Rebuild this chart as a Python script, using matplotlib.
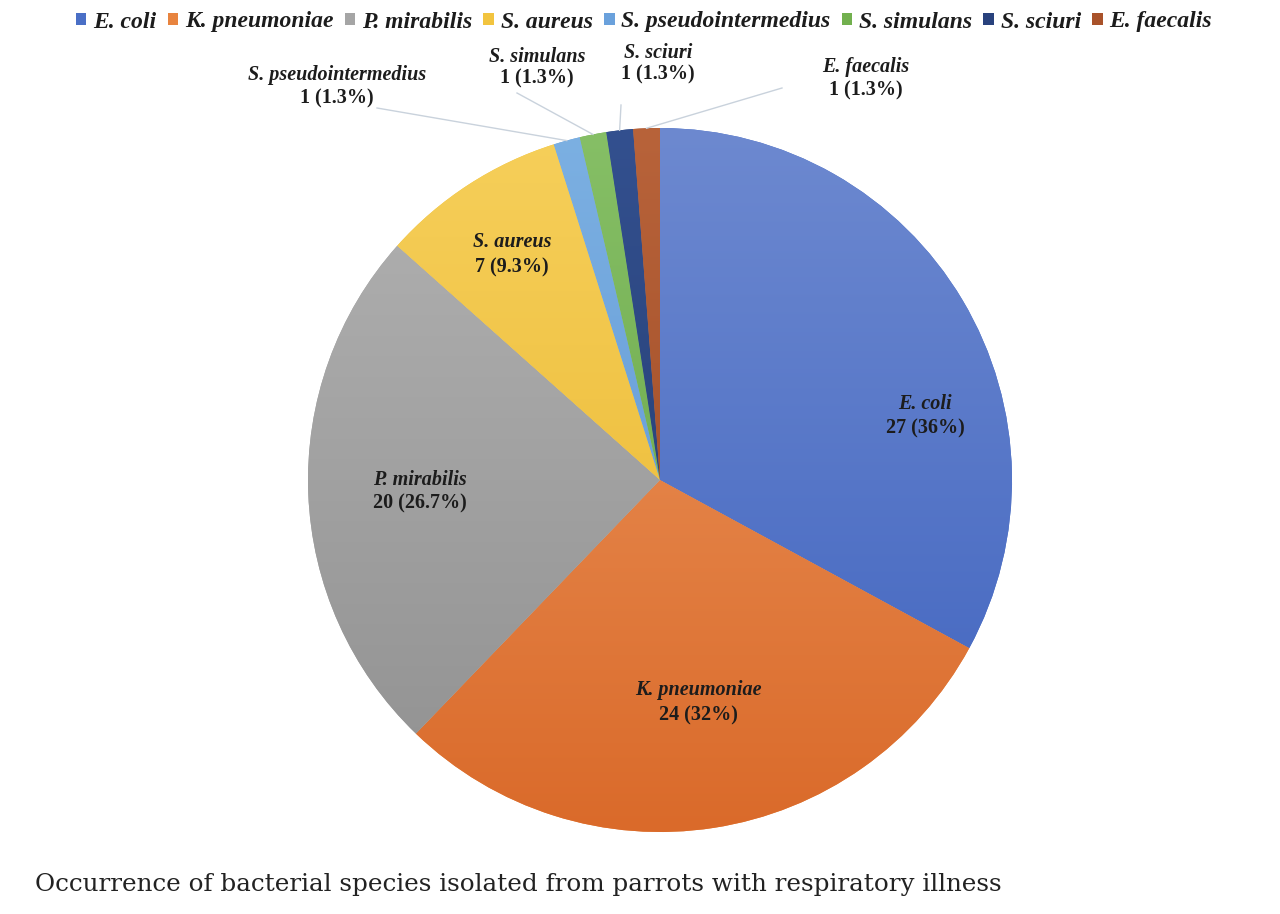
import numpy as np
import matplotlib
matplotlib.use("Agg")
import matplotlib.pyplot as plt
from matplotlib.patches import Patch
import matplotlib.colors as mcolors

# ---------------- data ----------------
species = ["E. coli", "K. pneumoniae", "P. mirabilis", "S. aureus",
           "S. pseudointermedius", "S. simulans", "S. sciuri", "E. faecalis"]
counts = [27, 24, 20, 7, 1, 1, 1, 1]
percent_labels = ["36%", "32%", "26.7%", "9.3%", "1.3%", "1.3%", "1.3%", "1.3%"]
caption = "Occurrence of bacterial species isolated from parrots with respiratory illness"

# ---------------- styles ----------------
legend_colors = ["#4a6fc6", "#e8843f", "#a5a5a5", "#f2c43f",
                 "#6aa1dc", "#72b04e", "#29427d", "#a9522a"]
top_colors = ["#6d89d0", "#ed9a62", "#b2b2b2", "#f6cf5a",
              "#7cb0e2", "#86bf66", "#33508f", "#b8633a"]
bot_colors = ["#3f63bf", "#da6a2a", "#909090", "#e9b52c",
              "#5a92d2", "#62a040", "#213869", "#974520"]

W, H = 1280, 914
fig = plt.figure(figsize=(12.8, 9.14), dpi=100)
ax = fig.add_axes([0, 0, 1, 1])

cx, cy, R = 660, H - 480, 352
wedges, _ = ax.pie(counts, startangle=90, counterclock=False,
                   center=(cx, cy), radius=R, colors=legend_colors,
                   wedgeprops=dict(linewidth=0), frame=True)
ax.set_xlim(0, W)
ax.set_ylim(0, H)
ax.set_aspect("equal")
ax.axis("off")

# vertical gradient fill clipped to each wedge
N = 256
t = np.linspace(0, 1, N)[:, None, None]
for w, ct, cb in zip(wedges, top_colors, bot_colors):
    a = np.array(mcolors.to_rgb(ct))[None, None, :]
    b = np.array(mcolors.to_rgb(cb))[None, None, :]
    grad = a * (1 - t) + b * t
    im = ax.imshow(grad, extent=(cx - R, cx + R, cy - R, cy + R),
                   origin="upper", aspect="auto", zorder=2, interpolation="bilinear")
    im.set_clip_path(w)
ax.set_xlim(0, W)
ax.set_ylim(0, H)

name_font = dict(family="Liberation Serif", weight="bold", style="italic")
num_font = dict(family="Liberation Serif", weight="bold")
txt_color = "#1c1c1c"
fs = 14.5

# label positions (pixel, from top): x, y of name line, y of count line
label_pos = {
    "E. coli": (925, 404, 428),
    "K. pneumoniae": (698, 690, 715),
    "P. mirabilis": (420, 480, 503),
    "S. aureus": (512, 242, 267),
    "S. pseudointermedius": (337, 75, 98),
    "S. simulans": (537, 57, 78),
    "S. sciuri": (658, 53, 74),
    "E. faecalis": (866, 67, 90),
}
leader_start = {
    "S. pseudointermedius": (377, 108),
    "S. simulans": (517, 93),
    "S. sciuri": (621, 105),
    "E. faecalis": (782, 88),
}

total = sum(counts)
cum = np.cumsum([0] + counts[:-1])
for i, (sp, c, p) in enumerate(zip(species, counts, percent_labels)):
    x, yn, yc = label_pos[sp]
    ax.text(x, H - yn, sp, ha="center", va="center", fontsize=fs,
            color=txt_color, zorder=5, **name_font)
    ax.text(x, H - yc, f"{c} ({p})", ha="center", va="center", fontsize=fs,
            color=txt_color, zorder=5, **num_font)
    if sp in leader_start:
        th = np.deg2rad(90 - 360 * (cum[i] + c / 2) / total)
        ex, ey = cx + R * np.cos(th), cy + R * np.sin(th)
        sx, sy = leader_start[sp]
        ax.plot([sx, ex], [H - sy, ey], color="#c9d2dc", lw=1.0, zorder=4)

# legend
handles = [Patch(facecolor=col, edgecolor="none") for col in legend_colors]
leg = fig.legend(handles, species, loc="center", bbox_to_anchor=(644 / W, 1 - 22 / H),
                 ncol=len(species), frameon=False, handlelength=0.45, handleheight=0.45,
                 handletextpad=0.28, columnspacing=0.48, borderaxespad=0, borderpad=0,
                 prop=dict(family="Liberation Serif", weight="bold", style="italic", size=17))
for txt in leg.get_texts():
    txt.set_color(txt_color)

fig.text(35 / W, 1 - 885 / H, caption, ha="left", va="center",
         fontsize=17.7, family="DejaVu Serif", color="#222222")

fig.savefig("out.png", dpi=100)
